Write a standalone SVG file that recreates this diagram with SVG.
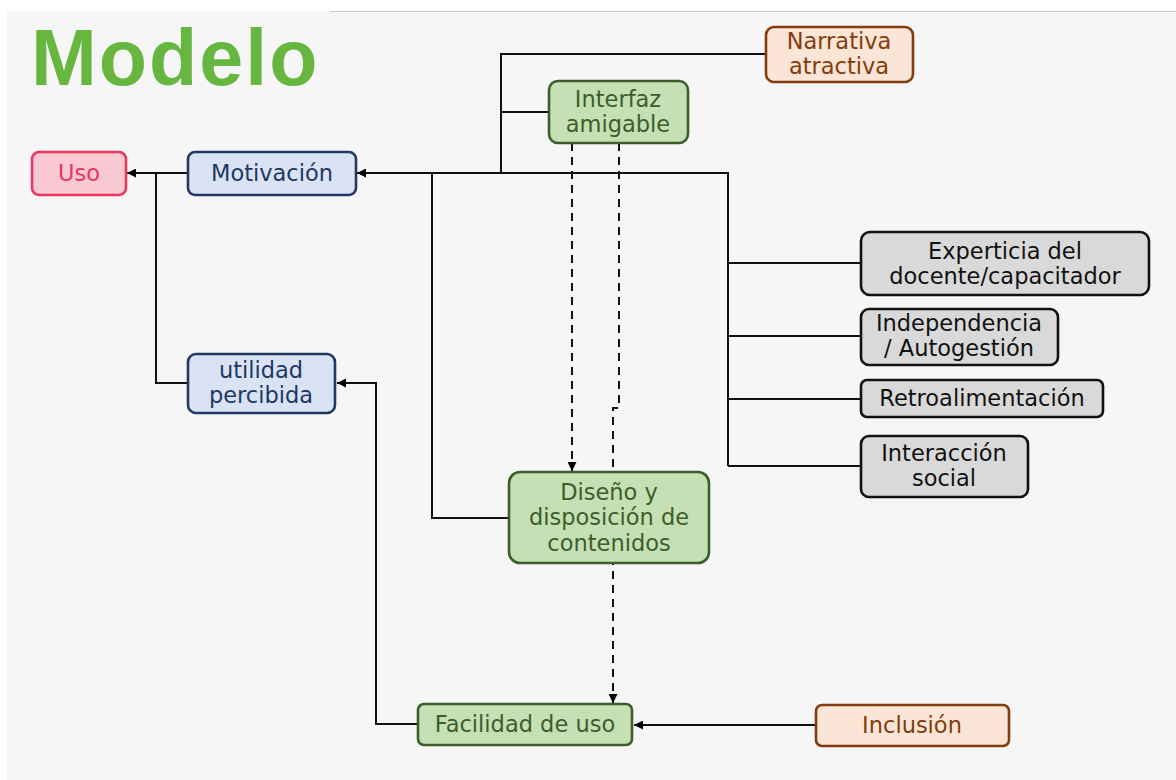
<svg xmlns="http://www.w3.org/2000/svg" width="1176" height="780" viewBox="0 0 1176 780">
<defs>
<marker id="ah" viewBox="0 0 10 10" refX="10" refY="5" markerWidth="10" markerHeight="9" orient="auto" markerUnits="userSpaceOnUse"><path d="M0,0 L10,5 L0,10 z" fill="#000"/></marker>
<style>
.n{stroke-width:2.6}
.t{font-family:"DejaVu Sans","Noto Sans",sans-serif;font-size:22.5px;text-anchor:middle}
.c{fill:none;stroke:#111;stroke-width:2}
.d{fill:none;stroke:#111;stroke-width:2;stroke-dasharray:8,6}
.blue{fill:#dae3f3;stroke:#203864}
.green{fill:#c5e0b4;stroke:#3b5e2b}
.orange{fill:#fbe5d6;stroke:#843c0c}
.gray{fill:#d9d9d9;stroke:#111}
.pink{fill:#f8c8d3;stroke:#e8365d}
</style>
</defs>
<rect x="0" y="0" width="1176" height="780" fill="#ffffff"/>
<rect x="7" y="11" width="1169" height="769" fill="#f6f6f6"/>
<line x1="330" y1="11.5" x2="1176" y2="11.5" stroke="#c8c8c8" stroke-width="1"/>
<text x="31" y="85" font-family="Liberation Sans, Arial, sans-serif" font-weight="bold" font-size="79" letter-spacing="2" fill="#67b63f">Modelo</text>

<g id="connectors">
<path class="c" d="M188,173 H127" marker-end="url(#ah)"/>
<path class="c" d="M156,173 V383 H188"/>
<path class="c" d="M418,724 H376 V383 H337" marker-end="url(#ah)"/>
<path class="c" d="M816,725 H634" marker-end="url(#ah)"/>
<path class="c" d="M728,466 V173 H357" marker-end="url(#ah)"/>
<path class="c" d="M728,263 H861 M728,336 H861 M728,399 H861 M728,466 H861"/>
<path class="c" d="M501,173 V54 H766 M501,112 H549"/>
<path class="c" d="M432,173 V518 H509"/>
<path class="d" d="M572,143 V471" marker-end="url(#ah)"/>
<path class="d" d="M619,143 V408 H613 V703" marker-end="url(#ah)"/>
</g>

<g id="uso"><rect class="n pink" x="32" y="152" width="94" height="43" rx="7"/><text class="t" x="79" y="181" fill="#e8365d">Uso</text></g>
<g id="motivacion"><rect class="n blue" x="188" y="152" width="168" height="43" rx="7"/><text class="t" x="272" y="181" fill="#203864">Motivación</text></g>
<g id="utilidad"><rect class="n blue" x="188" y="354" width="147" height="59" rx="8"/><text class="t" x="261" y="378" fill="#203864">utilidad</text><text class="t" x="261" y="403" fill="#203864">percibida</text></g>
<g id="narrativa"><rect class="n orange" x="766" y="27" width="147" height="55" rx="8"/><text class="t" x="839" y="49" fill="#843c0c">Narrativa</text><text class="t" x="839" y="74" fill="#843c0c">atractiva</text></g>
<g id="interfaz"><rect class="n green" x="549" y="81" width="139" height="62" rx="9"/><text class="t" x="618" y="107" fill="#3b5e2b">Interfaz</text><text class="t" x="618" y="132" fill="#3b5e2b">amigable</text></g>
<g id="diseno"><rect class="n green" x="509" y="472" width="200" height="91" rx="11"/><text class="t" x="609" y="500" fill="#3b5e2b">Diseño y</text><text class="t" x="609" y="525" fill="#3b5e2b">disposición de</text><text class="t" x="609" y="551" fill="#3b5e2b">contenidos</text></g>
<g id="facilidad"><rect class="n green" x="418" y="704" width="214" height="41" rx="6"/><text class="t" x="525" y="732" fill="#3b5e2b">Facilidad de uso</text></g>
<g id="inclusion"><rect class="n orange" x="816" y="705" width="193" height="41" rx="6"/><text class="t" x="912" y="733" fill="#843c0c">Inclusión</text></g>
<g id="experticia"><rect class="n gray" x="861" y="232" width="288" height="63" rx="9"/><text class="t" x="1005" y="259" fill="#111">Experticia del</text><text class="t" x="1005" y="284" fill="#111">docente/capacitador</text></g>
<g id="independencia"><rect class="n gray" x="861" y="309" width="197" height="56" rx="8"/><text class="t" x="959" y="331" fill="#111">Independencia</text><text class="t" x="959" y="356" fill="#111">/ Autogestión</text></g>
<g id="retro"><rect class="n gray" x="861" y="380" width="242" height="37" rx="6"/><text class="t" x="982" y="406" fill="#111">Retroalimentación</text></g>
<g id="interaccion"><rect class="n gray" x="861" y="436" width="167" height="61" rx="8"/><text class="t" x="944" y="461" fill="#111">Interacción</text><text class="t" x="944" y="486" fill="#111">social</text></g>
</svg>
